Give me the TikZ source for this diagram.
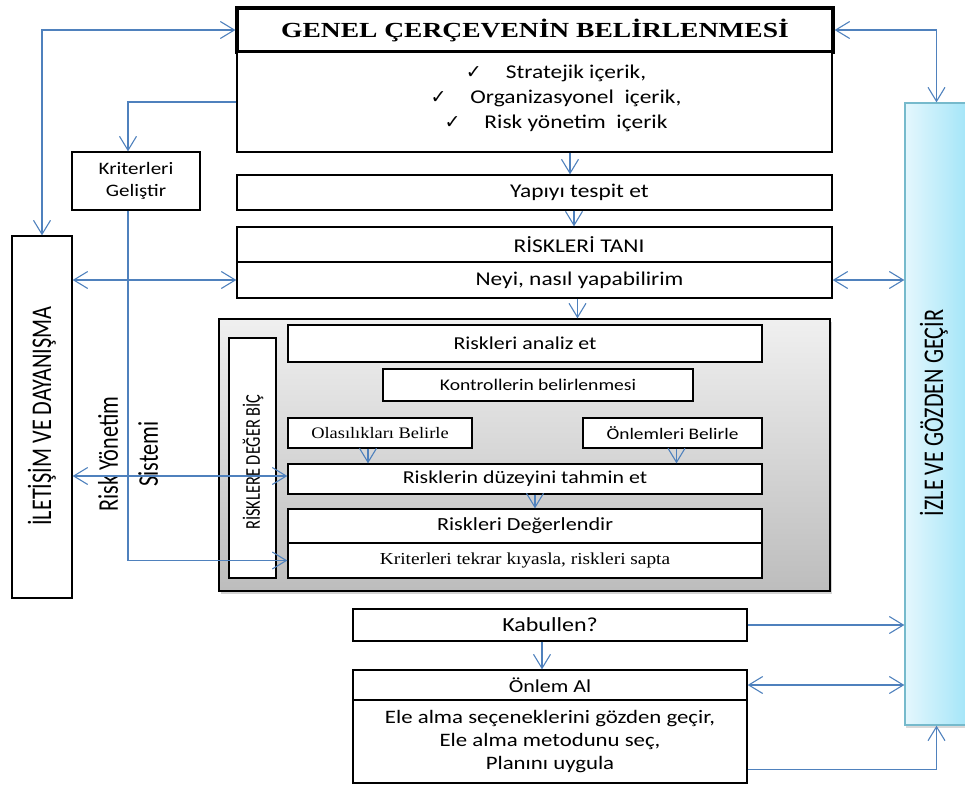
\documentclass[tikz,border=0pt]{standalone}
\usepackage{fontspec}
\setmainfont{Carlito}[FakeStretch=1.2]
\newfontfamily\serifont{Liberation Serif}[FakeStretch=1.15]
\newfontfamily\titlefont{Liberation Serif}[FakeStretch=1.28]
\newfontfamily\vertfont{Carlito}[FakeStretch=0.78]
\newfontfamily\checkfont{DejaVu Sans}
\usetikzlibrary{arrows.meta, positioning, shadows}

\definecolor{arrowblue}{RGB}{79,129,189}
\definecolor{izleleft}{RGB}{228,247,253}
\definecolor{izleright}{RGB}{163,229,248}
\definecolor{izleborder}{RGB}{118,186,204}

\newcommand{\fsz}[2]{\fontsize{#1}{#2}\selectfont}
\newcommand{\chk}{{\checkfont\fsz{19}{20}✓}\hspace{24pt}}

\begin{document}
\begin{tikzpicture}[x=1pt, y=-1pt, > = {Straight Barb[length=14pt,width=17pt]},
  box/.style={draw, line width=1.3pt, fill=white, inner sep=0pt},
  wh/.style 2 args={minimum width=#1pt, minimum height=#2pt},
  txt/.style={font=\fsz{19.5}{25}, align=center, inner sep=0pt},
  conn/.style={draw=arrowblue, line width=1.1pt}]

\useasboundingbox (0,0) rectangle (965,785);

% right and left columns
\node[box, wh={63}{622}, draw=izleborder, left color=izleleft, right color=izleright,
      drop shadow={shadow xshift=1pt, shadow yshift=-3pt, opacity=0.3}]
      (izle) at (936.5,414) {};
\node[font=\vertfont\fsz{28.5}{34}, rotate=90] at (934,413) {İZLE VE GÖZDEN GEÇİR};
\node[box, wh={60}{362}] (iletisim) at (42,417) {};
\node[font=\vertfont\fsz{28.5}{34}, rotate=90] at (42,416) {İLETİŞİM VE DAYANIŞMA};
\node[box, wh={128}{58}, font=\fsz{17.5}{22}, align=center] (kriter) at (136,181) {Kriterleri\\Geliştir};
\node[font=\vertfont\fsz{28.5}{40}, rotate=90, align=center] (sistem) at (128,454) {Risk Yönetim\\Sistemi};

% top part
\node[box, wh={596}{44}, line width=3.2pt] (title) at (535,30)
      {\titlefont\bfseries\fsz{21.5}{25}GENEL ÇERÇEVENİN BELİRLENMESİ};
\node[box, wh={595}{100}] (context) at (534.5,102) {};
\node[txt, font=\fsz{19.5}{25}] (ctxlist) at (556,98)
      {\chk Stratejik içerik,\\ \chk Organizasyonel\ \ içerik,\\ \chk Risk yönetim\ \ içerik};
\node[box, wh={595}{35}] (yapi) at (534.5,192.5) {};
\node[txt] at ([xshift=45pt]yapi.center) {Yapıyı tespit et};
\node[box, wh={595}{35}] (tani) at (534.5,244.5) {};
\node[txt] at ([xshift=44.5pt]tani.center) {RİSKLERİ TANI};
\node[box, wh={595}{36}] (neyi) at (534.5,280) {};
\node[txt] at ([xshift=45pt]neyi.center) {Neyi, nasıl yapabilirim};

% evaluation panel
\node[box, wh={611}{272}, top color=gray!12, bottom color=gray!52,
      drop shadow={shadow xshift=2pt, shadow yshift=-3pt, opacity=0.35}]
      (panel) at (524.5,455) {};
\node[box, wh={47}{240}] (degerbic) at (252.5,458) {};
\node[font=\vertfont\fsz{21}{25}, rotate=90] at (253,462) {RİSKLERE DEĞER BİÇ};
\node[box, wh={474}{37}, font=\fsz{18.2}{22}] (analiz) at (525,343.5) {Riskleri analiz et};
\node[box, wh={310}{32}, font=\fsz{16.3}{20}] (kontrol) at (538,385) {Kontrollerin belirlenmesi};
\node[box, wh={184}{30}, font=\serifont\fsz{16}{20}] (olasilik) at (380,433) {Olasılıkları Belirle};
\node[box, wh={179}{30}, font=\fsz{16.1}{20}] (onlemler) at (672.5,433) {Önlemleri Belirle};
\node[box, wh={474}{30}, font=\fsz{18.2}{22}] (duzey) at (525,479) {Risklerin düzeyini tahmin et};
\node[box, wh={474}{34}, font=\fsz{18.5}{22}] (degerlendir) at (525,526) {Riskleri Değerlendir};
\node[box, wh={474}{35}, font=\serifont\fsz{16.8}{20}] (kyasla) at (525,560.5)
      {Kriterleri tekrar kıyasla, riskleri sapta};

% bottom part
\node[box, wh={394}{32}, font=\fsz{20}{24}] (kabul) at (550,625) {Kabullen?};
\node[box, wh={394}{30}, font=\fsz{18.3}{22}] (onlem) at (550,685) {Önlem Al};
\node[box, wh={394}{83}, font=\fsz{19}{23}, align=center] (onlemic) at (550,741.5)
      {Ele alma seçeneklerini gözden geçir,\\Ele alma metodunu seç,\\Planını uygula};

% connectors
\draw[conn, <->] (title.west) -| (iletisim.north);
\draw[conn, <->] (title.east) -| (izle.north);
\draw[conn, ->] (context.west) -| ([xshift=-8pt]kriter.north);
\draw[conn, ->] ([xshift=-8pt]kriter.south) |- (kyasla.west);
\draw[conn, <->] (iletisim.east |- neyi.west) -- (neyi.west);
\draw[conn, <->] (neyi.east) -- (izle.west |- neyi.east);
\draw[conn, <->] (iletisim.east |- 0,476) -- (duzey.west |- 0,476);
\draw[conn, ->] ([xshift=35.5pt]context.south) -- ([xshift=35.5pt]context.south |- yapi.north);
\draw[conn, ->] ([xshift=39.5pt]yapi.south) -- ([xshift=39.5pt]yapi.south |- tani.north);
\draw[conn, ->] ([xshift=43pt]neyi.south) -- ([xshift=43pt]neyi.south |- panel.north);
\draw[conn, ->] ([xshift=-12pt]olasilik.south) -- ([xshift=-12pt]olasilik.south |- duzey.north);
\draw[conn, ->] ([xshift=4pt]onlemler.south) -- ([xshift=4pt]onlemler.south |- duzey.north);
\draw[conn, ->] ([xshift=10pt]duzey.south) -- ([xshift=10pt]duzey.south |- degerlendir.north);
\draw[conn, ->] (kabul.east) -- (izle.west |- kabul.east);
\draw[conn, ->] ([xshift=-8pt]kabul.south) -- ([xshift=-8pt]kabul.south |- onlem.north);
\draw[conn, <->] (onlem.east) -- (izle.west |- onlem.east);
\draw[conn, ->] ([yshift=-28pt]onlemic.east) -| (izle.south);
\end{tikzpicture}
\end{document}
